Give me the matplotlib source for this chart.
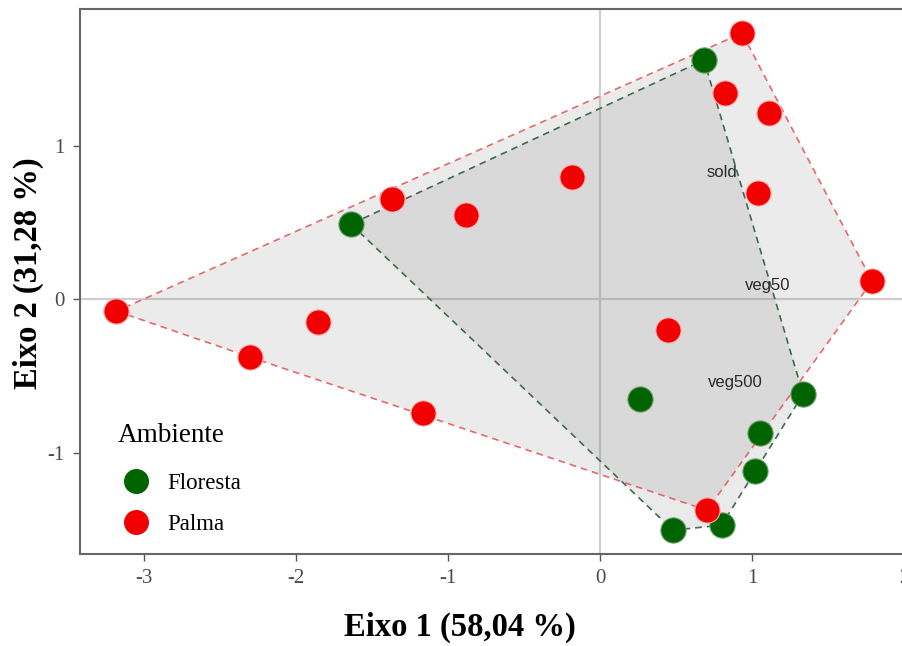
import numpy as np
import matplotlib
matplotlib.use("Agg")
import matplotlib.pyplot as plt
from matplotlib.lines import Line2D

# ---- data ----
palma_x = [0.934, 0.822, 1.112, 1.040, 1.790, -0.184, -0.880, -1.370, -3.180, -1.855, -2.300, -1.164, 0.447, 0.704]
palma_y = [1.733, 1.342, 1.212, 0.690, 0.117, 0.795, 0.547, 0.651, -0.078, -0.150, -0.378, -0.743, -0.202, -1.375]
floresta_x = [0.684, -1.638, 0.263, 1.336, 1.053, 1.020, 0.480, 0.800]
floresta_y = [1.557, 0.489, -0.651, -0.619, -0.873, -1.120, -1.505, -1.472]
var_labels = ["sold", "veg50", "veg500"]
var_x = [0.80, 1.10, 0.89]
var_y = [0.827, 0.09, -0.54]
x_ticks = [-3, -2, -1, 0, 1, 2]
y_ticks = [-1, 0, 1]
x_label = "Eixo 1 (58,04 %)"
y_label = "Eixo 2 (31,28 %)"
legend_title = "Ambiente"
groups = ["Floresta", "Palma"]


def convex_hull(xs, ys):
    pts = sorted(set(zip(xs, ys)))
    def cross(o, a, b):
        return (a[0]-o[0])*(b[1]-o[1]) - (a[1]-o[1])*(b[0]-o[0])
    lower, upper = [], []
    for p in pts:
        while len(lower) >= 2 and cross(lower[-2], lower[-1], p) <= 0:
            lower.pop()
        lower.append(p)
    for p in reversed(pts):
        while len(upper) >= 2 and cross(upper[-2], upper[-1], p) <= 0:
            upper.pop()
        upper.append(p)
    h = lower[:-1] + upper[:-1]
    return np.array(h + [h[0]])


fig = plt.figure(figsize=(9.03, 6.46), dpi=100)
ax = fig.add_axes([0.0886, 0.1424, 0.921, 0.8437])
ax.set_xlim(-3.42, 2.05)
ax.set_ylim(-1.66, 1.89)

ax.axvline(0, color="#cfcfcf", lw=1.6, zorder=0)
ax.axhline(0, color="#cfcfcf", lw=1.6, zorder=0)

red = "#f00000"
green = "#006400"

hp = convex_hull(palma_x, palma_y)
hf = convex_hull(floresta_x, floresta_y)
ax.fill(hp[:, 0], hp[:, 1], color="#7f7f7f", alpha=0.15, lw=0, zorder=1)
ax.fill(hf[:, 0], hf[:, 1], color="#7f7f7f", alpha=0.16, lw=0, zorder=1)
ax.plot(hp[:, 0], hp[:, 1], color="#e26a6a", lw=1.2, ls=(0, (4, 3)), zorder=2)
ax.plot(hf[:, 0], hf[:, 1], color="#3d6b4d", lw=1.2, ls=(0, (4, 3)), zorder=2)

ax.scatter(floresta_x, floresta_y, s=330, color=green, edgecolor="#6fa06f", lw=0.8, zorder=4)
ax.scatter(palma_x, palma_y, s=330, color=red, edgecolor="#ffb0b0", lw=0.8, zorder=4)

for t, x, y in zip(var_labels, var_x, var_y):
    ax.text(x, y, t, fontsize=12, family="Liberation Sans", color="#2a2a2a",
            ha="center", va="center", zorder=5)

ax.set_xticks(x_ticks)
ax.set_yticks(y_ticks)
ax.set_xticklabels([str(v) for v in x_ticks])
ax.set_yticklabels([str(v) for v in y_ticks])
ax.tick_params(axis="both", direction="out", length=5, width=1, color="#555555",
               labelsize=15, labelcolor="#4a4a4a", pad=6)
for lbl in ax.get_xticklabels() + ax.get_yticklabels():
    lbl.set_family("Liberation Serif")

for s in ["left", "bottom", "top", "right"]:
    ax.spines[s].set_color("#666666")
    ax.spines[s].set_linewidth(1.5)

fig.text(460 / 903, 1 - 627 / 646, x_label, fontsize=23.5, fontweight="bold",
         family="Liberation Serif", ha="center", va="center")
fig.text(28 / 903, 1 - 273 / 646, y_label, fontsize=23.5, fontweight="bold",
         family="Liberation Serif", ha="center", va="center", rotation=90)

# legend: title as separate text for spacing control
ax.text(0.0457, 0.218, legend_title, transform=ax.transAxes, ha="left", va="center",
        fontsize=19.5, family="Liberation Serif", zorder=6)
handles = [Line2D([], [], marker="o", ls="", color=green, markersize=17),
           Line2D([], [], marker="o", ls="", color=red, markersize=17)]
leg = ax.legend(handles, groups, loc="center left",
                bbox_to_anchor=(0.0457, 0.0915), frameon=False,
                prop={"family": "Liberation Serif", "size": 16.5},
                labelspacing=0.9, handletextpad=0.55,
                handlelength=1.6, borderpad=0, borderaxespad=0)

fig.savefig("out.png", dpi=100)
